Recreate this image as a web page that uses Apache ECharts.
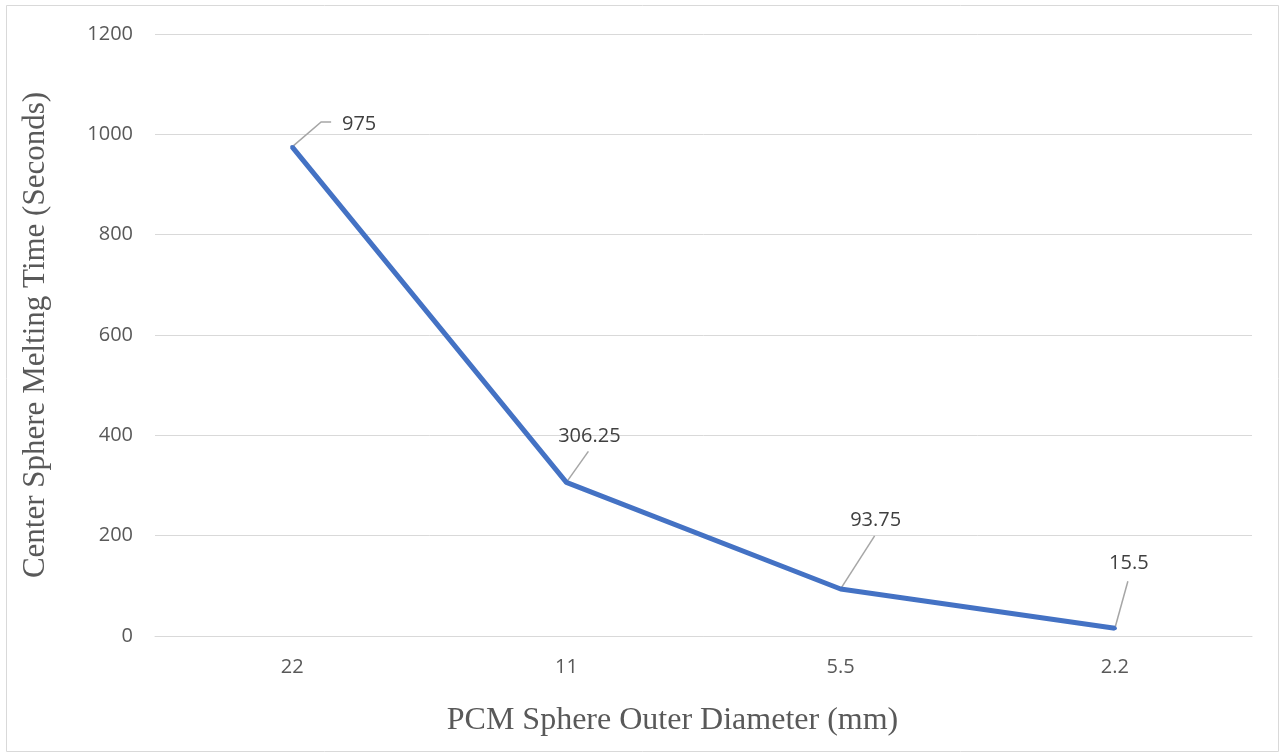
<!DOCTYPE html>
<html>
<head>
<meta charset="utf-8">
<script src="https://cdn.jsdelivr.net/npm/echarts@6/dist/echarts.min.js"></script>
<style>
  html, body { margin: 0; padding: 0; background: #fff; }
  #chart { width: 1281px; height: 755px; }
</style>
</head>
<body>
<div id="chart"></div>
<script>
// Melting time of the centre sphere for each PCM sphere diameter
const diameters = ['22', '11', '5.5', '2.2'];
const meltTimes = [975, 306.25, 93.75, 15.5];
const yTicks = [0, 200, 400, 600, 800, 1000, 1200];

// Label offsets (px) from the default top position, per point
const labelShift = [[67, -6], [23, -29], [35, -52], [14, -48]];
// Leader line bends (px, relative to each point)
const leaderPath = [
  [[29, -25], [39, -25]],
  [[22, -31]],
  [[34, -53]],
  [[13, -47]]
];

const chart = echarts.init(document.getElementById('chart'));
chart.setOption({
  animation: false,
  backgroundColor: '#ffffff',
  graphic: [{
    type: 'rect',
    shape: { x: 6.5, y: 5.5, width: 1272, height: 746 },
    style: { fill: 'none', stroke: '#d9d9d9', lineWidth: 1 },
    silent: true
  }],
  grid: { left: 155, right: 29, top: 34, bottom: 119 },
  xAxis: {
    type: 'category',
    data: diameters,
    boundaryGap: true,
    name: 'PCM Sphere Outer Diameter (mm)',
    nameLocation: 'middle',
    nameGap: 69,
    nameTextStyle: {
      fontFamily: 'Liberation Serif', fontSize: 32, color: '#595959',
      padding: [0, 62, 0, 0]
    },
    axisLine: { show: true, lineStyle: { color: '#d9d9d9', width: 1 } },
    axisTick: { show: false },
    axisLabel: { margin: 21, fontFamily: 'Open Sans', fontSize: 20, color: '#595959' }
  },
  yAxis: {
    type: 'value',
    min: yTicks[0],
    max: yTicks[yTicks.length - 1],
    interval: yTicks[1] - yTicks[0],
    name: 'Center Sphere Melting Time (Seconds)',
    nameLocation: 'middle',
    nameGap: 104,
    nameTextStyle: { fontFamily: 'Liberation Serif', fontSize: 31, color: '#595959' },
    axisLine: { show: false },
    axisTick: { show: false },
    axisLabel: {
      margin: 22,
      fontFamily: 'Open Sans',
      fontSize: 20,
      color: '#595959',
      formatter: function (v) { return String(v); }
    },
    splitLine: { show: true, lineStyle: { color: '#d9d9d9', width: 1 } }
  },
  series: [
    {
      // leader lines from each point to its value label
      type: 'custom',
      silent: true,
      z: 1,
      data: meltTimes.map(function (v, i) { return [i, v]; }),
      renderItem: function (params, api) {
        const p = api.coord([api.value(0), api.value(1)]);
        const pts = [p].concat(leaderPath[params.dataIndex].map(function (o) {
          return [p[0] + o[0], p[1] + o[1]];
        }));
        return {
          type: 'polyline',
          shape: { points: pts },
          style: { stroke: '#a6a6a6', lineWidth: 1.5, fill: 'none' }
        };
      }
    },
    {
      type: 'line',
      z: 2,
      data: meltTimes,
      symbol: 'circle',
      symbolSize: 4,
      showSymbol: true,
      itemStyle: { color: '#4472C4' },
      lineStyle: { color: '#4472C4', width: 5 },
      label: {
        show: true,
        position: 'top',
        distance: 5,
        fontFamily: 'Open Sans',
        fontSize: 20,
        color: '#404040'
      },
      labelLayout: function (p) {
        const s = labelShift[p.dataIndex];
        return { dx: s[0], dy: s[1] };
      }
    }
  ]
});
</script>
</body>
</html>
